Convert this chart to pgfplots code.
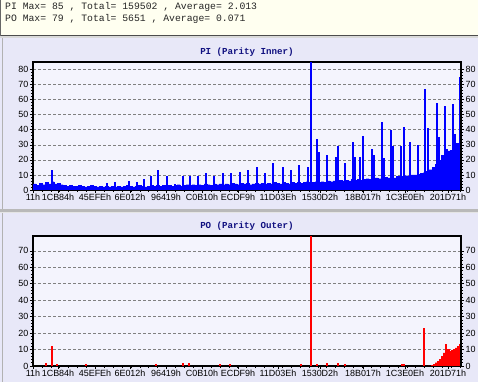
\documentclass[border=0pt]{standalone}
\usepackage{pgfplots}
\pgfplotsset{compat=1.18}
\usepackage{pgfplotstable}
\usepackage{fontspec}
\setmainfont{Liberation Sans}
\newfontfamily\monofont{Liberation Mono}
\definecolor{panelbg}{RGB}{232,232,248}
\definecolor{plotbg}{RGB}{244,244,253}
\definecolor{headbg}{RGB}{255,255,240}
\definecolor{titleblue}{RGB}{16,16,128}
\definecolor{piblue}{RGB}{0,0,255}
\definecolor{pored}{RGB}{255,0,0}

\pgfplotstableread{
x y
33 4
36 3
39 4.5
42 3.5
45 5
48 4
51 5.5
54 4
57 4.5
60 3.5
63 3
66 2.5
69 3
72 2.5
75 2.5
78 3
81 2.5
84 2
87 2.5
90 3
93 2.5
96 2
99 2.5
102 2
105 2.5
108 2
111 2.5
114 2
117 2.5
120 2
123 2.5
126 3
129 2.5
132 2
135 2.5
138 3
141 2.5
144 2
147 2.5
150 3
153 2.5
156 3
159 2.5
162 3
165 2.5
168 3
171 2.5
174 3
177 3.5
180 2.5
183 3
186 3.5
189 3
192 3.5
195 3
198 3.5
201 3
204 4
207 3.5
210 3
213 4
216 3.5
219 4
222 3.5
225 4
228 3.5
231 4.5
234 4
237 3.5
240 4.5
243 4
246 4.5
249 3.5
252 4
255 4.5
258 4
261 4.5
264 4
267 4.5
270 4
273 5
276 4.5
279 4
282 5
285 4.5
288 4
291 5
294 4.5
297 5
300 4.5
303 5
306 5.5
309 4.5
312 5
315 5.5
318 5
321 5.5
324 5
327 6
330 5.5
333 6
336 5.5
339 6.5
342 6
345 6.5
348 6
351 7
354 6.5
357 7
360 6.5
363 7
366 7.5
369 7
372 7.5
375 8
378 7.5
381 8
384 8.5
387 8
390 8.5
393 8
396 9
399 8.5
402 9
405 9.5
408 9
411 10
414 10
417 10.5
420 11
423 11.5
426 12.5
429 13.5
432 15
435 17
438 19.5
441 23
444 27
447 26
450 26.5
453 28
456 31
459 34
461 35
}\pibase

\pgfplotstableread{
x y
52 13
107 4.5
115 5
129 6
137 5
144 7
151 9
158 13
167 9
175 4
183 9
190 9
198 9
206 11
214 9
223 11.5
231 11
240 12
248 13
257 15
265 11.5
273 18
283 15
291 13
299 16.5
308 15.5
311 85
317 34
319 25
327 23
336 22
338 29
345 18
353 32
355 22
360 22
363 36
372 27
374 23
382 45
384 21
391 40
393 29
401 29
404 42
410 32
418 30
425 67
428 41
437 58
439 35
445 56
453 57
455 37
460 75
}\pispikes

\pgfplotstableread{
x y
428 0
431 0.5
433 1
435 2
437 3
439 4
441 6
443 8
445 9
447 10
449 9
451 9.5
453 10
455 11
457 12
459 13
461 13.5
}\potail

\pgfplotstableread{
x y
46 2
52 12
57 1
86 1
156 1
183 2
189 2
220 1
230 1
301 1
311 79
317 1
327 2
338 2
345 1
402 1
404 1
424 23
446 13.5
}\pospikes

\pgfplotsset{
  chartbase/.style={
    scale only axis, width=428bp, anchor=south west,
    xmin=33, xmax=461, ymin=0,
    axis line style={black, line width=1.3bp},
    tick align=outside, major tick length=3bp, minor tick length=2bp,
    tick style={black, line width=0.6bp},
    ticklabel style={font=\fontsize{9}{10}\selectfont, text=black},
    /pgf/number format/assume math mode=true,
    yticklabel style={inner sep=1.5bp},
    minor y tick num=4,
  },
  mainchart/.style={
    chartbase,
    axis background/.style={fill=plotbg},
    xtick={33,58,95,130,166,202,238,278,320,363,405,448},
    xticklabels={11h,1CB84h,45EFEh,6E012h,96419h,C0B10h,ECDF9h,11D03Eh,1530D2h,18B017h,1C3E0Eh,201D71h},
    minor xtick={33,41.9,...,461},
    xtick pos=left, ytick pos=left,
    xticklabel style={inner sep=1bp},
    ymajorgrids, grid style={gray, dash pattern=on 3bp off 2bp, line width=0.6bp},
  },
  rightchart/.style={
    chartbase,
    axis x line=none, axis y line*=right,
    yticklabel pos=right,
  },
}

\begin{document}
\begin{tikzpicture}
\path[use as bounding box] (0,0) rectangle (478bp,382bp);
\fill[panelbg] (0,0) rectangle (478bp,344bp);
\fill[headbg] (0,346bp) rectangle (478bp,382bp);
\fill[gray!30] (0,344bp) rectangle (478bp,346bp);
\draw[black!70, line width=1.2bp] (0,346.6bp) -- (478bp,346.6bp);
\draw[black!60, line width=1bp] (0.5bp,346bp) -- (0.5bp,382bp);
\draw[gray!60, line width=1bp] (2bp,0) -- (2bp,344bp);
\fill[gray!55] (0,170bp) rectangle (478bp,172.5bp);
\draw[white!80!gray, line width=0.8bp] (0,169.5bp) -- (478bp,169.5bp);

\node[anchor=base west, inner sep=0, font=\monofont\fontsize{9.8}{11}\selectfont, text=black!85] at (5bp,372.5bp) {PI Max= 85 , Total= 159502 , Average= 2.013};
\node[anchor=base west, inner sep=0, font=\monofont\fontsize{9.8}{11}\selectfont, text=black!85] at (5bp,360.2bp) {PO Max= 79 , Total= 5651 , Average= 0.071};

\node[font=\monofont\bfseries\fontsize{9.2}{10}\selectfont, text=titleblue] at (247bp,329.7bp) {PI (Parity Inner)};
\node[font=\monofont\bfseries\fontsize{9.2}{10}\selectfont, text=titleblue] at (247bp,156bp) {PO (Parity Outer)};

% ---------- PI chart ----------
\begin{axis}[mainchart, at={(33bp,192bp)}, height=128bp, ymax=85, ytick={0,10,...,80}]
\addplot[const plot, fill=piblue, draw=piblue, line width=0.3bp] table[x=x,y=y] {\pibase} \closedcycle;
\addplot[ycomb, mark=none, draw=piblue, line width=1.1bp] table[x=x,y=y] {\pispikes};
\end{axis}
\begin{axis}[rightchart, at={(33bp,192bp)}, height=128bp, ymax=85, ytick={0,10,...,80}]
\end{axis}

% ---------- PO chart ----------
\begin{axis}[mainchart, at={(33bp,16bp)}, height=130bp, ymax=79, ytick={0,10,...,70}]
\addplot[const plot, fill=pored, draw=pored, line width=0.3bp] table[x=x,y=y] {\potail} \closedcycle;
\addplot[ycomb, mark=none, draw=pored, line width=1.1bp] table[x=x,y=y] {\pospikes};
\end{axis}
\begin{axis}[rightchart, at={(33bp,16bp)}, height=130bp, ymax=79, ytick={0,10,...,70}]
\end{axis}
\end{tikzpicture}
\end{document}
